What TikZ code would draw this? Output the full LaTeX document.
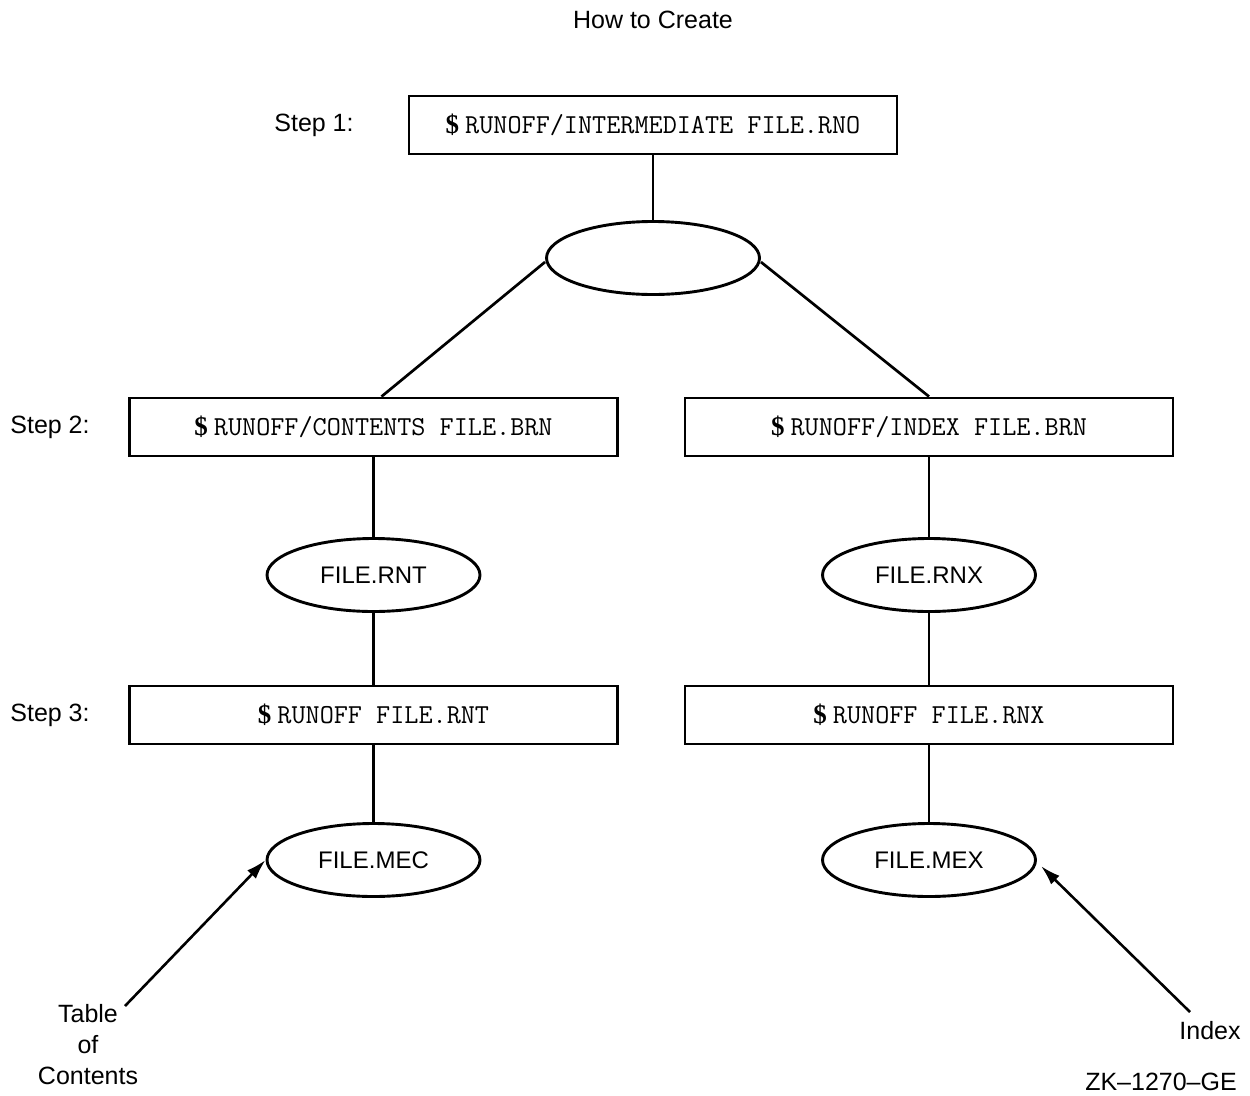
\documentclass[tikz,border=0pt]{standalone}
\usepackage{fontspec}
\setmainfont{Liberation Sans}
\newfontfamily\dollarfont{Liberation Serif}
\usetikzlibrary{shapes.geometric,arrows.meta}
\newcommand\dol{{\dollarfont\bfseries\fontsize{27}{30}\selectfont\$}\hspace{6pt}}
\begin{document}
\begin{tikzpicture}[x=1pt,y=-1pt, line width=2.9pt,
  cmdbox/.style={draw, rectangle, minimum width=488pt, minimum height=58pt, inner sep=0pt, font=\ttfamily\fontsize{27.4}{30}\selectfont},
  oval/.style={draw, ellipse, minimum width=213pt, minimum height=73pt, inner sep=0pt, font=\fontsize{24}{28}\selectfont},
  lbl/.style={font=\fontsize{25}{31}\selectfont, inner sep=0pt},
  link/.style={line width=2.7pt},
  pointer/.style={line width=2.6pt, -{Latex[length=20pt,width=12pt]}}
]
\useasboundingbox (0,0) rectangle (1250,1095);

\node[lbl] (title) at (653,20) {How to Create};

\node[cmdbox] (b1) at (653,125) {\dol RUNOFF/INTERMEDIATE FILE.RNO};
\node[lbl] (s1) at (314,125) {Step 1:};
\node[oval] (e0) at (653,258) {};

\node[cmdbox] (b2l) at (373.5,427) {\dol RUNOFF/CONTENTS FILE.BRN};
\node[cmdbox] (b2r) at (929,427) {\dol RUNOFF/INDEX FILE.BRN};
\node[lbl] (s2) at (50,427) {Step 2:};

\node[oval] (e1l) at (373.5,575) {FILE.RNT};
\node[oval] (e1r) at (929,575) {FILE.RNX};

\node[cmdbox] (b3l) at (373.5,715) {\dol RUNOFF FILE.RNT};
\node[cmdbox] (b3r) at (929,715) {\dol RUNOFF FILE.RNX};
\node[lbl] (s3) at (50,715) {Step 3:};

\node[oval] (e2l) at (373.5,860) {FILE.MEC};
\node[oval] (e2r) at (929,860) {FILE.MEX};

\node[lbl, align=center] (toc) at (88,1045) {Table\\of\\Contents};
\node[lbl] (idx) at (1210,1031) {Index};
\node[lbl] (zk) at (1161,1082) {ZK–1270–GE};

\draw[link] (b1.south) -- (e0.north);
\draw[link] ([yshift=-4pt]e0.west) -- ([xshift=8pt]b2l.north);
\draw[link] ([yshift=-4pt]e0.east) -- (b2r.north);
\draw[link] (b2l.south) -- (e1l.north);
\draw[link] (e1l.south) -- (b3l.north);
\draw[link] (b3l.south) -- (e2l.north);
\draw[link] (b2r.south) -- (e1r.north);
\draw[link] (e1r.south) -- (b3r.north);
\draw[link] (b3r.south) -- (e2r.north);

\coordinate (tocend) at (125,1006);
\coordinate (idxend) at (1190,1012);
\draw[pointer] (tocend) -- (e2l.west);
\draw[pointer] (idxend) -- ([xshift=4pt,yshift=-6pt]e2r.east);
\end{tikzpicture}
\end{document}
